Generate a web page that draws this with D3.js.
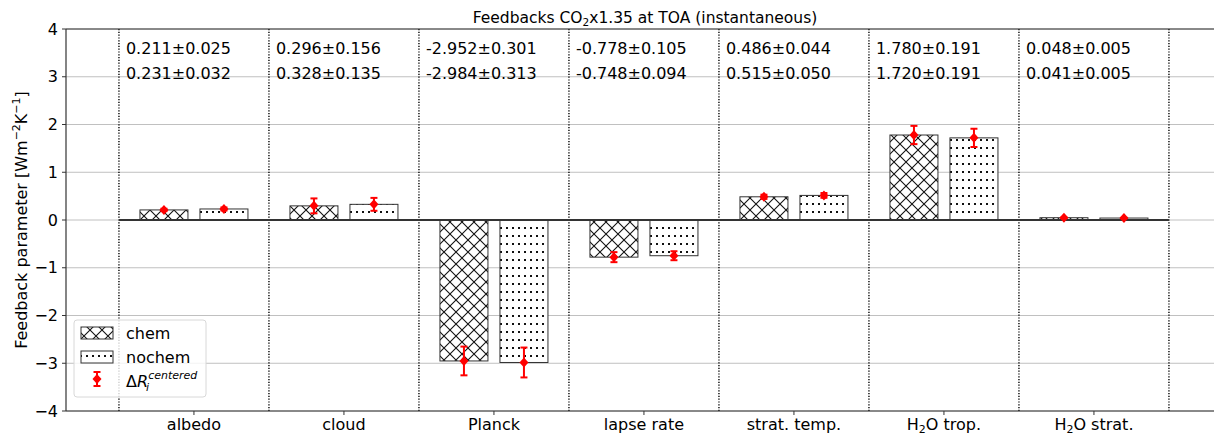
<!DOCTYPE html>
<html>
<head>
<meta charset="utf-8">
<script src="https://cdn.jsdelivr.net/npm/d3@7/dist/d3.min.js"></script>
<style>
body { margin: 0; background: white; }
text { font-family: "DejaVu Sans", sans-serif; }
</style>
</head>
<body>
<svg id="chart"></svg>
<script>
var categories = ["albedo", "cloud", "Planck", "lapse rate", "strat. temp.", "H2O trop.", "H2O strat."];
var chem = [0.211, 0.296, -2.952, -0.778, 0.486, 1.780, 0.048];
var chemErr = [0.025, 0.156, 0.301, 0.105, 0.044, 0.191, 0.005];
var nochem = [0.231, 0.328, -2.984, -0.748, 0.515, 1.720, 0.041];
var nochemErr = [0.032, 0.135, 0.313, 0.094, 0.050, 0.191, 0.005];
var yTicks = [-4, -3, -2, -1, 0, 1, 2, 3, 4];

var W = 1214, H = 434;
var left = 66, top_ = 29, bottom = 411, right = 1224;

var svg = d3.select("#chart").attr("width", W).attr("height", H);

var x = d3.scaleLinear().domain([-0.853, 6.867]).range([left, right]);
var y = d3.scaleLinear().domain([-4, 4]).range([bottom, top_]);

var barW = 0.32, off = 0.2;

// hatch patterns
var defs = svg.append("defs");
var px = defs.append("pattern").attr("id", "hx").attr("patternUnits", "userSpaceOnUse")
	.attr("width", 12).attr("height", 12);
px.append("rect").attr("width", 12).attr("height", 12).attr("fill", "white");
px.append("path").attr("d", "M0,0L12,12M12,0L0,12M-1,11L1,13M11,-1L13,1")
	.attr("stroke", "#111").attr("stroke-width", 1.1);

var pd = defs.append("pattern").attr("id", "hd").attr("patternUnits", "userSpaceOnUse")
	.attr("width", 6).attr("height", 8);
pd.append("rect").attr("width", 6).attr("height", 8).attr("fill", "white");
pd.append("rect").attr("x", 2).attr("y", 3).attr("width", 2).attr("height", 2).attr("fill", "#111");

// grid
svg.append("g").selectAll("line").data(yTicks).join("line")
	.attr("x1", left).attr("x2", right)
	.attr("y1", d => y(d)).attr("y2", d => y(d))
	.attr("stroke", "#b0b0b0").attr("stroke-width", 0.8);

// dotted separators
var seps = d3.range(categories.length + 1).map(i => i - 0.5);
svg.append("g").selectAll("line").data(seps).join("line")
	.attr("x1", d => x(d)).attr("x2", d => x(d))
	.attr("y1", top_).attr("y2", bottom)
	.attr("stroke", "#000").attr("stroke-width", 1.4).attr("stroke-dasharray", "1.2,1.6");

// bars
function drawBars(vals, dx, fill) {
	svg.append("g").selectAll("rect").data(vals).join("rect")
		.attr("x", (d, i) => x(i + dx - barW / 2))
		.attr("width", x(barW) - x(0))
		.attr("y", d => y(Math.max(0, d)))
		.attr("height", d => Math.abs(y(d) - y(0)))
		.attr("fill", fill).attr("stroke", "#333").attr("stroke-width", 1);
}
drawBars(chem, -off, "url(#hx)");
drawBars(nochem, off, "url(#hd)");

// zero line
svg.append("line").attr("x1", x(-0.5)).attr("x2", x(6.5))
	.attr("y1", y(0)).attr("y2", y(0)).attr("stroke", "#333").attr("stroke-width", 2);

// error bars
function errBar(g, cx, v, e) {
	g.append("line").attr("x1", cx).attr("x2", cx).attr("y1", y(v - e)).attr("y2", y(v + e))
		.attr("stroke", "red").attr("stroke-width", 2);
	[v - e, v + e].forEach(function (t) {
		g.append("line").attr("x1", cx - 3.5).attr("x2", cx + 3.5).attr("y1", y(t)).attr("y2", y(t))
			.attr("stroke", "red").attr("stroke-width", 2);
	});
	g.append("path").attr("transform", "translate(" + cx + "," + y(v) + ")")
		.attr("d", "M0,-5L4.5,0L0,5L-4.5,0Z").attr("fill", "red");
}
var eg = svg.append("g");
chem.forEach((v, i) => errBar(eg, x(i - off), v, chemErr[i]));
nochem.forEach((v, i) => errBar(eg, x(i + off), v, nochemErr[i]));

// annotations
var ann = svg.append("g").attr("font-size", 16).attr("fill", "#000");
categories.forEach(function (c, i) {
	ann.append("text").attr("x", x(i - 0.5) + 7).attr("y", 54)
		.text(chem[i].toFixed(3) + "\u00b1" + chemErr[i].toFixed(3));
	ann.append("text").attr("x", x(i - 0.5) + 7).attr("y", 79)
		.text(nochem[i].toFixed(3) + "\u00b1" + nochemErr[i].toFixed(3));
});

// spines
svg.append("line").attr("x1", left).attr("x2", left).attr("y1", top_).attr("y2", bottom).attr("stroke", "#333").attr("stroke-width", 1.2);
svg.append("line").attr("x1", left).attr("x2", right).attr("y1", top_).attr("y2", top_).attr("stroke", "#333").attr("stroke-width", 1.2);
svg.append("line").attr("x1", left).attr("x2", right).attr("y1", bottom).attr("y2", bottom).attr("stroke", "#333").attr("stroke-width", 1.2);

// y axis
var ya = svg.append("g").attr("font-size", 16);
yTicks.forEach(function (t) {
	ya.append("line").attr("x1", left - 4).attr("x2", left).attr("y1", y(t)).attr("y2", y(t)).attr("stroke", "#333");
	ya.append("text").attr("x", left - 8).attr("y", y(t)).attr("dy", "0.35em").attr("text-anchor", "end")
		.text(t < 0 ? "\u2212" + Math.abs(t) : t);
});

// x axis
var xa = svg.append("g").attr("font-size", 16);
categories.forEach(function (c, i) {
	xa.append("line").attr("x1", x(i)).attr("x2", x(i)).attr("y1", bottom).attr("y2", bottom + 4).attr("stroke", "#333");
	var t = xa.append("text").attr("x", x(i)).attr("y", 430).attr("text-anchor", "middle");
	if (c.indexOf("H2O") === 0) {
		t.append("tspan").text("H");
		t.append("tspan").text("2").attr("font-size", 11).attr("dy", 3);
		t.append("tspan").text("O" + c.slice(3)).attr("dy", -3);
	} else t.text(c);
});

// title
var tt = svg.append("text").attr("x", (left + right) / 2).attr("y", 23).attr("text-anchor", "middle").attr("font-size", 15.5);
tt.append("tspan").text("Feedbacks CO");
tt.append("tspan").text("2").attr("font-size", 10.5).attr("dy", 3);
tt.append("tspan").text("x1.35 at TOA (instantaneous)").attr("dy", -3);

// y label
var yl = svg.append("text").attr("transform", "translate(27," + y(0) + ") rotate(-90)")
	.attr("text-anchor", "middle").attr("font-size", 16);
yl.append("tspan").text("Feedback parameter [Wm");
yl.append("tspan").text("\u22122").attr("font-size", 11).attr("dy", -7);
yl.append("tspan").text("K").attr("dy", 7);
yl.append("tspan").text("\u22121").attr("font-size", 11).attr("dy", -7);
yl.append("tspan").text("]").attr("dy", 7);

// legend
var lg = svg.append("g");
lg.append("rect").attr("x", 74).attr("y", 320).attr("width", 132).attr("height", 77).attr("rx", 3)
	.attr("fill", "white").attr("fill-opacity", 0.8).attr("stroke", "#d8d8d8");
lg.append("rect").attr("x", 81).attr("y", 327).attr("width", 32).attr("height", 12).attr("fill", "url(#hx)").attr("stroke", "#333");
lg.append("rect").attr("x", 81).attr("y", 351).attr("width", 32).attr("height", 12).attr("fill", "url(#hd)").attr("stroke", "#333");
lg.append("text").attr("x", 126).attr("y", 339).attr("font-size", 16).text("chem");
lg.append("text").attr("x", 126).attr("y", 363).attr("font-size", 16).text("nochem");
var leg3 = lg.append("g");
leg3.append("line").attr("x1", 97).attr("x2", 97).attr("y1", 372).attr("y2", 386).attr("stroke", "red").attr("stroke-width", 2);
leg3.append("line").attr("x1", 93.5).attr("x2", 100.5).attr("y1", 372).attr("y2", 372).attr("stroke", "red").attr("stroke-width", 2);
leg3.append("line").attr("x1", 93.5).attr("x2", 100.5).attr("y1", 386).attr("y2", 386).attr("stroke", "red").attr("stroke-width", 2);
leg3.append("path").attr("transform", "translate(97,379)").attr("d", "M0,-5L4.5,0L0,5L-4.5,0Z").attr("fill", "red");
var dt = lg.append("text").attr("x", 126).attr("y", 387).attr("font-size", 16);
dt.append("tspan").text("\u0394");
dt.append("tspan").text("R").attr("font-style", "italic");
dt.append("tspan").text("i").attr("font-style", "italic").attr("font-size", 11).attr("dy", 4).attr("dx", -2);
dt.append("tspan").text("centered").attr("font-style", "italic").attr("font-size", 11).attr("dy", -12).attr("dx", -1);
</script>
</body>
</html>
